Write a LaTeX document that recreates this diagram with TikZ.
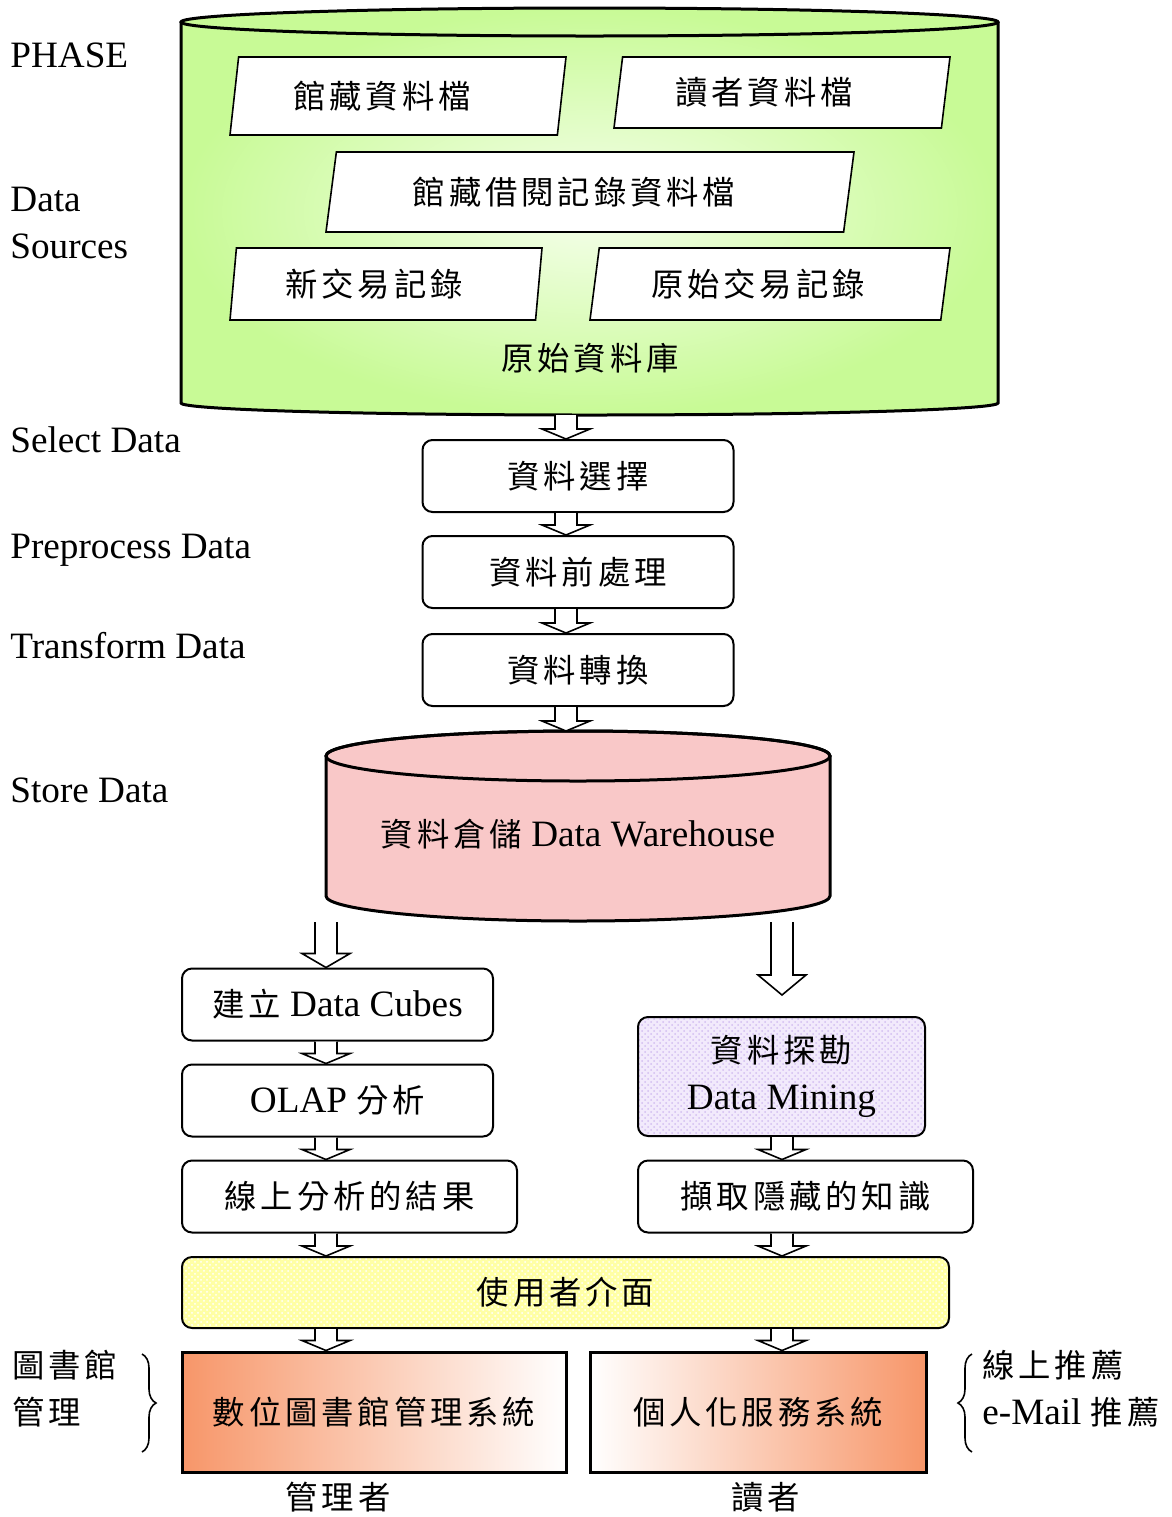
\documentclass[tikz,border=0pt]{standalone}
\usepackage{fontspec}
\setmainfont{Liberation Serif}
\newfontfamily\cjk[Scale=0.87,LetterSpace=12]{Noto Sans CJK TC}
\usetikzlibrary{shapes.geometric,calc,patterns,decorations.pathreplacing}

\definecolor{srcgreen}{RGB}{200,250,150}
\definecolor{srclight}{RGB}{245,255,235}
\definecolor{dwpink}{RGB}{249,200,200}
\definecolor{minepurple}{RGB}{242,234,252}
\definecolor{minedot}{RGB}{210,190,240}
\definecolor{uiyellow}{RGB}{255,255,165}
\definecolor{sysorange}{RGB}{247,150,105}

\newcommand{\zh}[1]{{\cjk #1}}
% hollow block arrow: [head length]{from}{to}
\newcommand{\hollowarrow}[3][5pt]{%
  \draw[fill=white, line width=0.8pt] let \p1=(#2), \p2=(#3) in
    (\x1-5.5pt,\y1) -- (\x1-5.5pt,\y2+#1) -- (\x1-12pt,\y2+#1) -- (\x1,\y2)
    -- (\x1+12pt,\y2+#1) -- (\x1+5.5pt,\y2+#1) -- (\x1+5.5pt,\y1);}

\tikzset{
  stepbox/.style={draw, line width=1pt, rounded corners=5pt, minimum height=36pt, inner sep=0pt, fill=white},
  filebox/.style={trapezium, trapezium left angle=#1, trapezium right angle=180-#1, trapezium stretches body,
    draw, fill=white, line width=0.8pt, inner sep=0pt},
  phase/.style={anchor=west, align=left, inner sep=0pt},
  sysbox/.style={draw, line width=1.5pt, minimum height=60pt, inner sep=0pt},
}

\begin{document}
\begin{tikzpicture}[x=0.5pt, y=-0.5pt, font=\fontsize{18.6}{23.5}\selectfont]
    \useasboundingbox (0,0) rectangle (1172,1517);

    % Phase labels
    \node[phase] (ph) at (10,55) {PHASE};
    \node[phase] (srcs) at (10,223) {Data\\Sources};
    \node[phase] (sellab) at (10,440) {Select Data};
    \node[phase] (preplab) at (10,550) {Preprocess Data};
    \node[phase] (translab) at (10,646) {Transform Data};
    \node[phase] (storelab) at (10,790) {Store Data};

    % Source database
    \shade[inner color=srclight, outer color=srcgreen] (181,22) -- (181,403)
        arc[start angle=180, end angle=360, x radius=204.25pt, y radius=6pt] -- (998,22)
        arc[start angle=0, end angle=180, x radius=204.25pt, y radius=7pt] -- cycle;
    \draw[line width=1.5pt] (181,22) -- (181,403)
        arc[start angle=180, end angle=360, x radius=204.25pt, y radius=6pt] -- (998,22);
    \draw[line width=1.5pt] (589.5,22) ellipse [x radius=204.25pt, y radius=7pt];
    \node (srcname) at (590,358) {\zh{原始資料庫}};
    \coordinate (srcbot) at (566,415);

    % Source files
    \node[filebox=74, minimum width=168pt, minimum height=39pt] (coll) at (398,96) {\zh{館藏資料檔}\hspace*{16pt}};
    \node[filebox=74, minimum width=168pt, minimum height=35.5pt] (reader) at (782,92.5) {\zh{讀者資料檔}\hspace*{18pt}};
    \node[filebox=71, minimum width=264pt, minimum height=40pt] (loan) at (590,192) {\zh{館藏借閱記錄資料檔}\hspace*{16pt}};
    \node[filebox=78, minimum width=156pt, minimum height=36pt] (newtx) at (386,284) {\zh{新交易記錄}\hspace*{12pt}};
    \node[filebox=73, minimum width=180pt, minimum height=36pt] (oldtx) at (770,284) {\zh{原始交易記錄}\hspace*{12pt}};

    % Preparation steps
    \node[stepbox, minimum width=155.5pt] (sel) at (578,476) {\zh{資料選擇}};
    \node[stepbox, minimum width=155.5pt] (prep) at (578,572) {\zh{資料前處理}};
    \node[stepbox, minimum width=155.5pt] (trans) at (578,670) {\zh{資料轉換}};

    % Data warehouse
    \draw[fill=dwpink, line width=1.5pt] (326,756) -- (326,896)
        arc[start angle=180, end angle=360, x radius=126pt, y radius=12.5pt] -- (830,756)
        arc[start angle=0, end angle=180, x radius=126pt, y radius=12.5pt] -- cycle;
    \draw[line width=1.5pt] (578,756) ellipse [x radius=126pt, y radius=12.5pt];
    \node (dw) at (578,834) {\zh{資料倉儲} Data Warehouse};
    \coordinate (dwtop) at (566,731);
    \coordinate (dwl) at (326,922);
    \coordinate (dwr) at (782,922);
    \coordinate (mineend) at (782,995);

    % OLAP branch
    \node[stepbox, minimum width=155.5pt] (cubes) at (337.5,1004.5) {\zh{建立} Data Cubes};
    \node[stepbox, minimum width=155.5pt] (olap) at (337.5,1100.5) {OLAP \zh{分析}};
    \node[stepbox, minimum width=167.5pt] (online) at (349.5,1196.5) {\zh{線上分析的結果}};

    % Mining branch
    \node[stepbox, minimum width=143.5pt, minimum height=59.5pt, align=center,
        pattern=crosshatch dots, pattern color=minedot, preaction={fill=minepurple}] (mine) at (781.5,1076.5)
        {\zh{資料探勘}\\Data Mining};
    \node[stepbox, minimum width=167.5pt] (extract) at (805.5,1196.5) {\zh{擷取隱藏的知識}};

    % User interface
    \node[stepbox, minimum width=383.5pt, minimum height=35.5pt,
        pattern=crosshatch dots, pattern color=white, preaction={fill=uiyellow}] (ui) at (565.5,1292.5) {\zh{使用者介面}};

    % Systems
    \node[sysbox, minimum width=192pt, left color=sysorange, middle color=sysorange!45!white,
        right color=white] (lib) at (374,1412) {\zh{數位圖書館管理系統}};
    \node[sysbox, minimum width=168pt, left color=white, middle color=sysorange!45!white,
        right color=sysorange] (pers) at (758,1412) {\zh{個人化服務系統}};
    \node (mgr) at (338,1497) {\zh{管理者}};
    \node (rdr) at (766,1497) {\zh{讀者}};

    % Braces
    \draw[decorate, decoration={brace, amplitude=7pt}, line width=0.8pt] (142,1354) -- (142,1452);
    \node[phase] (libmgr) at (12,1389) {\zh{圖書館}\\\zh{管理}};
    \draw[decorate, decoration={brace, amplitude=7pt}, line width=0.8pt] (972,1452) -- (972,1354);
    \node[phase] (recom) at (982,1389) {\zh{線上推薦}\\e-Mail \zh{推薦}};

    % Arrows
    \hollowarrow{srcbot}{sel.north}
    \hollowarrow{sel.south -| srcbot}{prep.north}
    \hollowarrow{prep.south -| srcbot}{trans.north}
    \hollowarrow{trans.south -| srcbot}{dwtop}
    \hollowarrow[7pt]{dwl}{cubes.north -| dwl}
    \hollowarrow[10pt]{dwr}{mineend}
    \hollowarrow{cubes.south -| dwl}{olap.north -| dwl}
    \hollowarrow{olap.south -| dwl}{online.north -| dwl}
    \hollowarrow{online.south -| dwl}{ui.north -| dwl}
    \hollowarrow{mine.south -| dwr}{extract.north -| dwr}
    \hollowarrow{extract.south -| dwr}{ui.north -| dwr}
    \hollowarrow{ui.south -| dwl}{lib.north -| dwl}
    \hollowarrow{ui.south -| dwr}{pers.north -| dwr}
\end{tikzpicture}
\end{document}
